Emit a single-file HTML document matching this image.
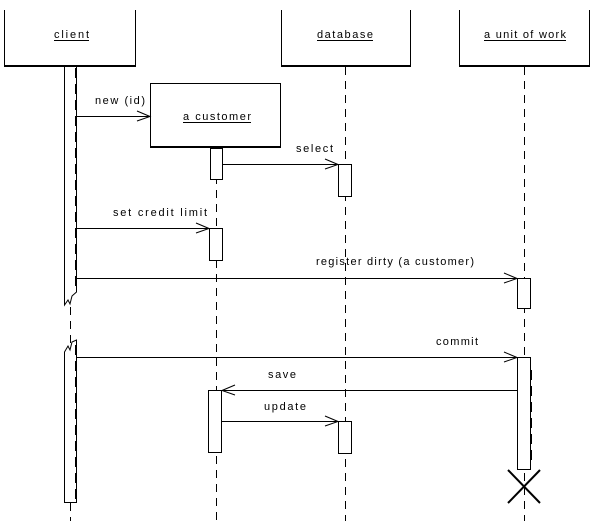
<!DOCTYPE html>
<html><head><meta charset="utf-8"><style>
html,body{margin:0;padding:0;background:#fff;}
svg{display:block;}
text{font-family:"Liberation Sans",sans-serif;font-size:11px;fill:#000;}
</style></head><body>
<svg width="602" height="521" viewBox="0 0 602 521" xmlns="http://www.w3.org/2000/svg">
<g stroke="#000" fill="none">
<path d="M4.5 10 V65.5 H135.5 V10" stroke-width="1"/>
<line x1="4" y1="66" x2="136" y2="66" stroke-width="2"/>
<path d="M281.5 10 V65.5 H410.5 V10"/>
<line x1="281" y1="66" x2="411" y2="66" stroke-width="2"/>
<path d="M459.5 10 V65.5 H589.5 V10"/>
<line x1="459" y1="66" x2="590" y2="66" stroke-width="2"/>
<rect x="150.5" y="83.5" width="130" height="63"/>
<line x1="150" y1="147" x2="281" y2="147" stroke-width="2"/>
<g stroke-dasharray="8,6">
<line x1="70.5" y1="307" x2="70.5" y2="521"/>
<line x1="216.5" y1="148" x2="216.5" y2="521"/>
<line x1="345.5" y1="67" x2="345.5" y2="521"/>
<line x1="524.5" y1="67" x2="524.5" y2="521"/>
</g>
</g>
<g stroke="#000" fill="#fff">
<path d="M64.5 67 V305 L68 300 L70 304 L72 296 L76.5 292 V67"/>
<path d="M64.5 502.5 V352 L68 346 L70 350 L72 342 L76.5 340 V502.5 Z"/>
<rect x="210.5" y="148.5" width="12" height="31"/>
<rect x="338.5" y="164.5" width="13" height="32"/>
<rect x="209.5" y="228.5" width="13" height="32"/>
<rect x="517.5" y="278.5" width="13" height="30"/>
<rect x="517.5" y="357.5" width="13" height="112"/>
<rect x="208.5" y="390.5" width="13" height="62"/>
<rect x="338.5" y="421.5" width="13" height="32"/>
</g>
<g stroke="#000" stroke-width="2" stroke-dasharray="10,6">
<line x1="76" y1="68" x2="76" y2="290"/>
<line x1="76" y1="345" x2="76" y2="500"/>
<line x1="531" y1="370" x2="531" y2="465"/>
</g>
<g stroke="#000" fill="none">
<line x1="77" y1="116.5" x2="150" y2="116.5"/>
<path d="M137 111 L150 116.5 L137 121"/>
<line x1="223" y1="164.5" x2="338" y2="164.5"/>
<path d="M325 159 L338 164.5 L325 169"/>
<line x1="77" y1="228.5" x2="209" y2="228.5"/>
<path d="M196 223 L209 228.5 L196 233"/>
<line x1="77" y1="278.5" x2="517" y2="278.5"/>
<path d="M504 273 L517 278.5 L504 283"/>
<line x1="77" y1="357.5" x2="517" y2="357.5"/>
<path d="M504 352 L517 357.5 L504 362"/>
<line x1="222" y1="390.5" x2="517" y2="390.5"/>
<path d="M235 385 L222 390.5 L235 395"/>
<line x1="222" y1="421.5" x2="338" y2="421.5"/>
<path d="M325 416 L338 421.5 L325 426"/>
<path d="M508 470 L540 503 M540 470 L508 503" stroke-width="2"/>
</g>
<text x="54" y="38" textLength="35" lengthAdjust="spacing">client</text>
<line x1="54" y1="40.5" x2="89" y2="40.5" stroke="#000"/>
<text x="317" y="38" textLength="56" lengthAdjust="spacing">database</text>
<line x1="317" y1="40.5" x2="373" y2="40.5" stroke="#000"/>
<text x="484" y="38" textLength="82" lengthAdjust="spacing">a unit of work</text>
<line x1="484" y1="40.5" x2="566" y2="40.5" stroke="#000"/>
<text x="183" y="120" textLength="68" lengthAdjust="spacing">a customer</text>
<line x1="183" y1="122.5" x2="251" y2="122.5" stroke="#000"/>
<text x="95" y="104" textLength="50" lengthAdjust="spacing">new (id)</text>
<text x="296" y="152" textLength="37" lengthAdjust="spacing">select</text>
<text x="113" y="216" textLength="94" lengthAdjust="spacing">set credit limit</text>
<text x="316" y="265" textLength="158" lengthAdjust="spacing">register dirty (a customer)</text>
<text x="436" y="345" textLength="42" lengthAdjust="spacing">commit</text>
<text x="268" y="378" textLength="28" lengthAdjust="spacing">save</text>
<text x="264" y="410" textLength="42" lengthAdjust="spacing">update</text>
</svg>
</body></html>
